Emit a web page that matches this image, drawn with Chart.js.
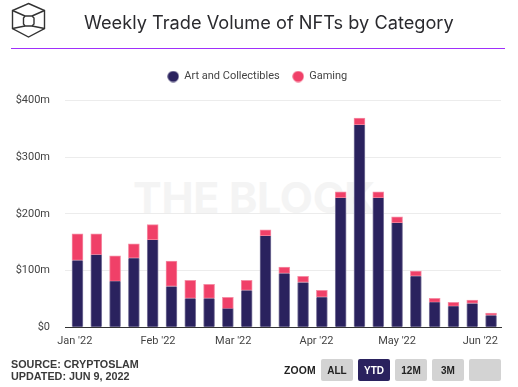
<!DOCTYPE html>
<html>
<head>
<meta charset="utf-8">
<script src="https://cdn.jsdelivr.net/npm/chart.js@4"></script>
<style>
html,body{margin:0;padding:0;background:#fff;width:518px;height:387px;overflow:hidden}
#wrap{position:relative;width:518px;height:387px}
#chartBox{position:absolute;left:0;top:0;width:518px;height:387px}
.abs{position:absolute;white-space:nowrap}
#wm{left:133px;top:172px;font:700 43px/50px "Inter",sans-serif;color:#f4f4f4;letter-spacing:-.3px}
#title{left:84px;top:10px;font:400 18.2px/24px "Inter",sans-serif;color:#2a2a2e}
#rule{left:11px;top:48px;width:494px;height:1px;background:#a02ffb}
#source{left:11px;top:358px;font:700 10.8px/12px "Liberation Sans",sans-serif;color:#3a3a3a}
#zoomLabel{left:284px;top:364px;font:700 10.4px/13px "Liberation Sans",sans-serif;color:#222;letter-spacing:.2px}
.btn{top:359px;width:32px;height:22px;background:#d3d3d3;border-radius:2px;text-align:center;font:700 10px/23px "Liberation Sans",sans-serif;color:#222}
.on{background:#2a225e;color:#fff}
</style>
</head>
<body>
<div id="wrap">
  <div class="abs" id="wm">THE BLOCK</div>
  <div id="chartBox"><canvas id="c" width="518" height="387"></canvas></div>
  <svg class="abs" style="left:0;top:0" width="60" height="45" viewBox="0 0 60 45" fill="none" stroke="#333" stroke-width="1.4">
    <path d="M28.500 3.500 L44.500 10.500 V28.500 L28.500 37 L12.500 28.500 V10.500 Z"/>
    <path d="M25 16 H32 L34 18 V24 L32 26 H25 L23.500 24 V18 Z"/>
    <path d="M12.500 10.500 L25 16 M44.500 10.500 L32 16 M12.500 28.500 L25 26 M44.500 28.500 L32 26"/>
  </svg>
  <div class="abs" id="title">Weekly Trade Volume of NFTs by Category</div>
  <div class="abs" id="rule"></div>
  <div class="abs" id="source">SOURCE: CRYPTOSLAM<br>UPDATED: JUN 9, 2022</div>
  <div class="abs" id="zoomLabel">ZOOM</div>
  <div class="abs btn" style="left:321px">ALL</div>
  <div class="abs btn on" style="left:358px">YTD</div>
  <div class="abs btn" style="left:395px">12M</div>
  <div class="abs btn" style="left:432px">3M</div>
  <div class="abs btn" style="left:469px"></div>
</div>
<script>
const weeks = ['2022-01-02','2022-01-09','2022-01-16','2022-01-23','2022-01-30','2022-02-06','2022-02-13','2022-02-20','2022-02-27','2022-03-06','2022-03-13','2022-03-20','2022-03-27','2022-04-03','2022-04-10','2022-04-17','2022-04-24','2022-05-01','2022-05-08','2022-05-15','2022-05-22','2022-05-29','2022-06-05'];
const artAndCollectibles = [118,128,81,122,154,72,51,51,33,65,161,95,79,53,228,357,228,184,90,44,37,42,21];
const gaming = [47,37,45,25,27,45,32,25,20,18,11,11,11,12,11,12,11,11,9,7,7,6,4];
const monthTicks = ['2022-01-01','2022-02-01','2022-03-01','2022-04-01','2022-05-01','2022-06-01'];
const monthLabels = ["Jan '22","Feb '22","Mar '22","Apr '22","May '22","Jun '22"];
const yTicks = [0,100,200,300,400];
const yLabels = ['$0','$100m','$200m','$300m','$400m'];

const DAY = 86400000;
const dayNo = s => (Date.parse(s + 'T00:00:00Z') - Date.parse('2022-01-01T00:00:00Z')) / DAY;
const monthDays = monthTicks.map(dayNo);
const series = vals => vals.map((v, i) => ({x: dayNo(weeks[i]), y: v}));
const tickFont = {family: 'Roboto, sans-serif', size: 11};

function dot(color) {
  const cv = document.createElement('canvas');
  cv.width = 12; cv.height = 12;
  const g = cv.getContext('2d');
  g.fillStyle = color;
  g.beginPath(); g.arc(6, 6, 5.6, 0, Math.PI * 2); g.fill();
  return cv;
}
const dots = [dot('#2a225e'), dot('#f04068')];

new Chart(document.getElementById('c'), {
  type: 'bar',
  data: {
    datasets: [
      {label: 'Art and Collectibles', data: series(artAndCollectibles), backgroundColor: '#2a225e', borderColor: '#7f7a9e', borderWidth: {left:1,right:1,top:0,bottom:0}, barThickness: 11, borderSkipped: false},
      {label: 'Gaming', data: series(gaming), backgroundColor: '#f04068', borderColor: '#f58ca4', borderWidth: 1, barThickness: 11, borderSkipped: false}
    ]
  },
  plugins: [{
    id: 'legendGap',
    beforeInit(chart) {
      const fit = chart.legend.fit;
      chart.legend.fit = function () { fit.call(this); this.height += 8.5; };
    }
  }],
  options: {
    responsive: false,
    animation: false,
    layout: {padding: {left: 14, right: 17, top: 58, bottom: 31.5}},
    plugins: {
      tooltip: {enabled: false},
      title: {display: false},
      legend: {display: true, position: 'top', labels: {
        usePointStyle: true, padding: 13, color: '#444',
        font: {family: 'Roboto, sans-serif', size: 11},
        generateLabels: c => Chart.defaults.plugins.legend.labels.generateLabels(c).map(l => ({...l, pointStyle: dots[l.datasetIndex]}))
      }}
    },
    scales: {
      x: {
        type: 'linear', stacked: true, offset: false, min: -3.65, max: 158.7,
        afterBuildTicks: a => { a.ticks = monthDays.map(v => ({value: v})); },
        afterFit: a => { a.paddingLeft = 0; a.paddingRight = 0; },
        ticks: {autoSkip: false, maxRotation: 0, color: '#444', font: tickFont, padding: 7.5,
          callback: v => monthLabels[monthDays.indexOf(v)]},
        grid: {display: false, drawTicks: false},
        border: {color: '#333', width: 1}
      },
      y: {
        stacked: true, min: 0, max: 400,
        afterBuildTicks: a => { a.ticks = yTicks.map(v => ({value: v})); },
        afterFit: a => { a.width = 51; },
        ticks: {color: '#444', font: tickFont, padding: 15,
          callback: v => yLabels[yTicks.indexOf(v)]},
        grid: {color: '#ececec', drawTicks: false},
        border: {display: false}
      }
    }
  }
});
</script>
</body>
</html>
